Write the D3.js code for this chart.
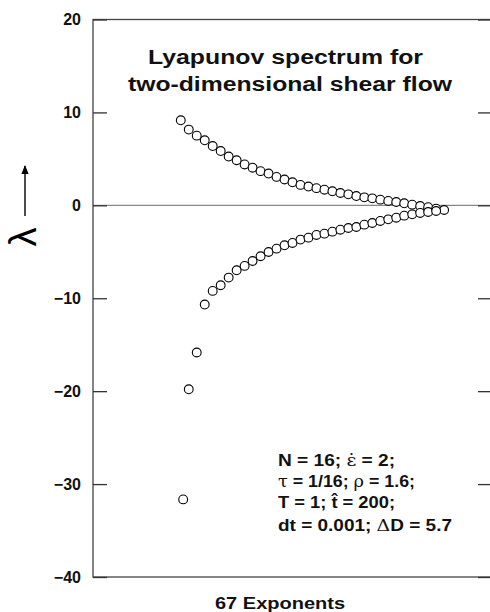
<!DOCTYPE html>
<html>
<head>
<meta charset="utf-8">
<script src="https://cdn.jsdelivr.net/npm/d3@7"></script>
<style>
  body { margin: 0; background: #fff; }
  svg { display: block; }
  text { font-family: "Liberation Sans", Arial, Helvetica, sans-serif; }
</style>
</head>
<body>
<svg id="chart" width="490" height="612"></svg>
<script>
//------------------------------------------------------------------------------
// data
//------------------------------------------------------------------------------
var upper = [9.15, 8.15, 7.5, 7.0, 6.38, 5.84, 5.25, 4.85, 4.4, 4.05, 3.68, 3.42,
             3.06, 2.78, 2.48, 2.2, 2.02, 1.85, 1.68, 1.51, 1.33, 1.18, 1.0, 0.86,
             0.75, 0.61, 0.47, 0.36, 0.22, 0.07, -0.07, -0.2, -0.36, -0.5]
var lower = [-31.65, -19.8, -15.84, -10.68, -9.21, -8.6, -7.78, -6.99, -6.52, -5.99,
             -5.48, -5.02, -4.66, -4.3, -4.05, -3.69, -3.48, -3.19, -3.05, -2.83,
             -2.62, -2.44, -2.33, -2.08, -1.9, -1.68, -1.51, -1.33, -1.11, -0.97,
             -0.82, -0.72, -0.61]
// pair number of each exponent (first negative one sits a little to the right)
var upperIndex = upper.map(function(v, i) { return i + 1 })
var lowerIndex = lower.map(function(v, i) { return i === 0 ? 1.3 : i + 1 })
var yTicks = [-40, -30, -20, -10, 0, 10, 20]
var titleLines = ["Lyapunov spectrum for", "two-dimensional shear flow"]
var xLabel = "67 Exponents"

;(function() {

  //----------------------------------------------------------------------------
  // scales
  //----------------------------------------------------------------------------
  var svg = d3.select("#chart")
  var x0 = 93, x1 = 492, y0 = 19.5, y1 = 577

  var x = d3.scaleLinear().domain([-10, 40]).range([x0, x1])
  var y = d3.scaleLinear().domain([-40, 20]).range([y1, y0])

  //----------------------------------------------------------------------------
  // frame, zero line and axes
  //----------------------------------------------------------------------------
  svg.append("line")
    .attr("x1", x0).attr("x2", x1)
    .attr("y1", y(0)).attr("y2", y(0))
    .attr("stroke", "#888").attr("stroke-width", 1.3)

  svg.append("rect")
    .attr("x", x0).attr("y", y0)
    .attr("width", x1 - x0).attr("height", y1 - y0)
    .attr("fill", "none").attr("stroke", "#444").attr("stroke-width", 1.3)

  var yAxis = svg.append("g")
    .attr("transform", "translate(" + x0 + ",0)")
    .call(d3.axisLeft(y).tickValues(yTicks).tickSize(-14).tickPadding(12))

  yAxis.select(".domain").remove()
  yAxis.selectAll("line").attr("stroke", "#333").attr("stroke-width", 1.3)
  yAxis.selectAll("text")
    .attr("font-size", 16).attr("font-weight", "bold").attr("fill", "#111")
    .attr("font-family", "'Liberation Sans', Arial, sans-serif")

  var yAxisR = svg.append("g")
    .attr("transform", "translate(" + (x1 - 2) + ",0)")
    .call(d3.axisRight(y).tickValues(yTicks).tickSize(-12).tickFormat(""))

  yAxisR.select(".domain").remove()
  yAxisR.selectAll("line").attr("stroke", "#333").attr("stroke-width", 1.3)

  //----------------------------------------------------------------------------
  // exponents
  //----------------------------------------------------------------------------
  var points = upper.map(function(v, i) { return {i: upperIndex[i], v: v} })
    .concat(lower.map(function(v, i) { return {i: lowerIndex[i], v: v} }))

  svg.append("g").selectAll("circle")
    .data(points)
    .enter().append("circle")
      .attr("cx", function(d) { return x(d.i) })
      .attr("cy", function(d) { return y(d.v) })
      .attr("r", 4.4)
      .attr("fill", "#fff")
      .attr("stroke", "#000")
      .attr("stroke-width", 1.1)

  //----------------------------------------------------------------------------
  // labels
  //----------------------------------------------------------------------------
  svg.selectAll("text.title")
    .data(titleLines)
    .enter().append("text")
      .attr("class", "title")
      .attr("x", function(d, i) { return i ? 128 : 148 })
      .attr("y", function(d, i) { return i ? 91 : 64 })
      .attr("textLength", function(d, i) { return i ? 324 : 275 })
      .attr("lengthAdjust", "spacingAndGlyphs")
      .attr("font-size", 20)
      .attr("font-weight", "bold")
      .attr("fill", "#111")
      .text(function(d) { return d })

  svg.append("text")
    .attr("x", 215).attr("y", 609)
    .attr("textLength", 130).attr("lengthAdjust", "spacingAndGlyphs")
    .attr("font-size", 16).attr("font-weight", "bold").attr("fill", "#111")
    .text(xLabel)

  // parameter block
  var params = [
    [["N = 16; ", 0], ["ε̇", 1], [" = 2;", 0]],
    [["τ", 1], [" = 1/16; ", 0], ["ρ", 1], [" = 1.6;", 0]],
    [["T = 1; ", 0], ["t̂", 0], [" = 200;", 0]],
    [["dt = 0.001; ", 0], ["Δ", 1], ["D = 5.7", 0]]
  ]
  var paramWidth = [117, 137, 117, 174]
  var paramY = [466, 486.5, 508, 531]

  params.forEach(function(line, k) {
    var t = svg.append("text")
      .attr("x", 278).attr("y", paramY[k])
      .attr("textLength", paramWidth[k]).attr("lengthAdjust", "spacingAndGlyphs")
      .attr("font-size", 16).attr("font-weight", "bold").attr("fill", "#111")
    line.forEach(function(p) {
      t.append("tspan")
        .attr("font-weight", p[1] ? "normal" : "bold")
        .attr("font-family", p[1] ? "'DejaVu Serif', 'Liberation Serif', serif" : null)
        .text(p[0])
    })
  })

  // lambda with upward arrow
  svg.append("defs").append("marker")
    .attr("id", "head")
    .attr("viewBox", "0 0 10 10")
    .attr("refX", 9).attr("refY", 5)
    .attr("markerWidth", 12).attr("markerHeight", 9)
    .attr("markerUnits", "userSpaceOnUse")
    .attr("orient", "auto")
    .append("path").attr("d", "M0,1 L10,5 L0,9 Z").attr("fill", "#000")

  svg.append("line")
    .attr("x1", 25).attr("x2", 25)
    .attr("y1", 216).attr("y2", 166)
    .attr("stroke", "#000").attr("stroke-width", 1.4)
    .attr("marker-end", "url(#head)")

  svg.append("text")
    .attr("transform", "translate(36,237) rotate(-90)")
    .attr("text-anchor", "middle")
    .attr("font-family", "'Liberation Serif', 'Times New Roman', serif")
    .attr("font-size", 38)
    .attr("fill", "#000")
    .text("λ")

})()
</script>
</body>
</html>
